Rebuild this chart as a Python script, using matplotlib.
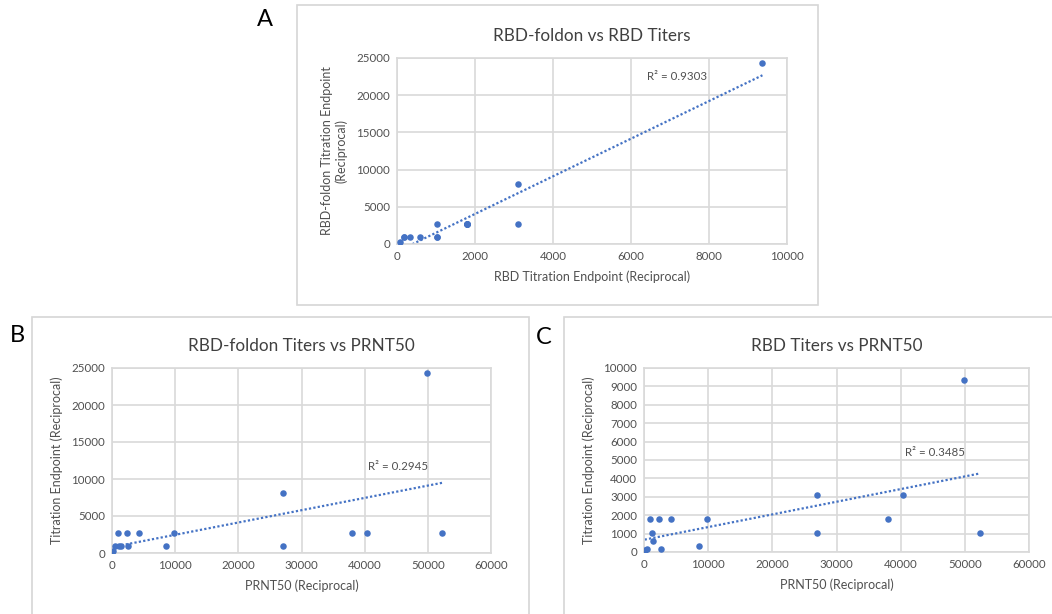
import numpy as np
import matplotlib.pyplot as plt
from matplotlib.patches import Rectangle

plt.rcParams['font.family'] = ['Lato', 'DejaVu Sans']

# per-sample titers
prnt50 = [100, 420, 1000, 1180, 1380, 2400, 2600, 4270, 8600, 9800,
          27000, 27000, 37950, 40400, 49850, 52300]
rbd = [85, 190, 1790, 1025, 580, 1790, 190, 1790, 325, 1790,
       3110, 1025, 1790, 3110, 9370, 1025]
rbd_foldon = [300, 900, 2700, 900, 900, 2700, 900, 2700, 900, 2700,
              8100, 900, 2700, 2700, 24300, 2700]

r2_labels = ['R² = 0.9303', 'R² = 0.2945', 'R² = 0.3485']

blue = '#4472C4'
grid_c = '#d9d9d9'
txt_c = '#505050'

W, H = 1052, 614
fig = plt.figure(figsize=(W / 100, H / 100), dpi=100)


def px_axes(l, t, r, b):
    return fig.add_axes([l / W, 1 - b / H, (r - l) / W, (b - t) / H])


def box(l, t, r, b):
    fig.add_artist(Rectangle((l / W, 1 - b / H), (r - l) / W, (b - t) / H,
                             transform=fig.transFigure, fill=False,
                             edgecolor='#d6d6d6', linewidth=1.2))


def scatter_panel(ax, x, y, title, xlabel, ylabel, xlim, xstep, ylim, ystep,
                  r2, r2pos):
    x = np.array(x, dtype=float)
    y = np.array(y, dtype=float)
    ax.scatter(x, y, s=22, color=blue, zorder=3, linewidths=0)
    k, c = np.polyfit(x, y, 1)
    xs = np.array([x.min(), x.max()])
    ax.plot(xs, k * xs + c, linestyle=(0, (1, 1)), color=blue, lw=1.6,
            zorder=2)
    ax.set_xlim(*xlim)
    ax.set_ylim(*ylim)
    ax.set_xticks(np.arange(xlim[0], xlim[1] + 1, xstep))
    ax.set_yticks(np.arange(ylim[0], ylim[1] + 1, ystep))
    ax.grid(True, color=grid_c, lw=1.2)
    ax.set_axisbelow(True)
    for s in ax.spines.values():
        s.set_color(grid_c)
        s.set_linewidth(1.2)
    ax.tick_params(length=0, labelsize=8.3, colors=txt_c, pad=5)
    ax.set_title(title, fontsize=12.3, color='#404040', pad=12)
    ax.set_xlabel(xlabel, fontsize=9, color=txt_c, labelpad=6)
    ax.set_ylabel(ylabel, fontsize=9, color=txt_c, labelpad=6)
    ax.text(r2pos[0], r2pos[1], r2, fontsize=8.3, color=txt_c, va='center')


# panel frames
box(297, 5, 818, 305)
box(32, 317, 529, 640)
box(564, 317, 1080, 640)

axA = px_axes(397, 58, 787, 244)
scatter_panel(axA, rbd, rbd_foldon, 'RBD-foldon vs RBD Titers',
              'RBD Titration Endpoint (Reciprocal)',
              'RBD-foldon Titration Endpoint\n(Reciprocal)',
              (0, 10000), 2000, (0, 25000), 5000, r2_labels[0], (6400, 22450))

axB = px_axes(112, 368, 491, 553)
scatter_panel(axB, prnt50, rbd_foldon, 'RBD-foldon Titers vs PRNT50',
              'PRNT50 (Reciprocal)', 'Titration Endpoint (Reciprocal)',
              (0, 60000), 10000, (0, 25000), 5000, r2_labels[1], (40600, 11700))

axC = px_axes(644, 368, 1029, 552)
scatter_panel(axC, prnt50, rbd, 'RBD Titers vs PRNT50',
              'PRNT50 (Reciprocal)', 'Titration Endpoint (Reciprocal)',
              (0, 60000), 10000, (0, 10000), 1000, r2_labels[2], (40700, 5400))

fig.text(265 / W, 1 - 20 / H, 'A', fontsize=17, ha='center', va='center')
fig.text(17 / W, 1 - 335 / H, 'B', fontsize=17, ha='center', va='center')
fig.text(544 / W, 1 - 337 / H, 'C', fontsize=17, ha='center', va='center')

fig.savefig('out.png', dpi=100)
